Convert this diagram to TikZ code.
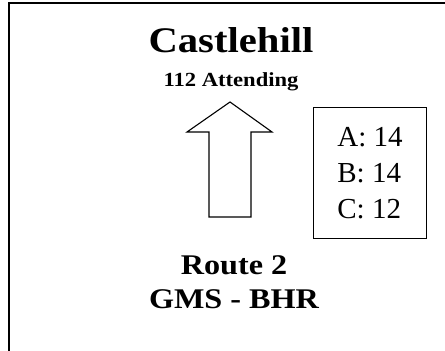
\documentclass[tikz,border=0pt]{standalone}
\usepackage{fontspec}
\setmainfont{Liberation Serif}
\newfontfamily\headfont[FakeStretch=1.13]{Liberation Serif}
\usepackage{tikz}
\usetikzlibrary{positioning,calc}

\tikzset{
  heading/.style={anchor=base, font=\headfont\fontsize{36}{40}\bfseries\selectfont},
  subheading/.style={anchor=base, font=\headfont\fontsize{20}{24}\bfseries\selectfont},
  route/.style={anchor=base, font=\headfont\fontsize{28.5}{32}\bfseries\selectfont},
  countbox/.style={draw, line width=1.6pt, minimum width=113pt, minimum height=131pt,
    align=left, font=\fontsize{29}{36}\selectfont}
}

\begin{document}
\begin{tikzpicture}[x=1pt, y=1pt]
\useasboundingbox (0,0) rectangle (445,351);
\begin{scope}
\clip (0,0) rectangle (445,351);
\draw[line width=1.8pt] (9,-20) rectangle (470,348);
\end{scope}

\node[heading] (town) at (231,298) {Castlehill};
\node[subheading] (attend) at (231,264) {112 Attending};

% arrow pointing up
\draw[line width=1.1pt, line join=miter] (209,134) -- (251,134) -- (251,219) -- (272,219)
  -- (230,249) -- (187,219) -- (209,219) -- cycle;

\node[countbox] (counts) at (370,178) {A: 14\\B: 14\\C: 12};

\node[route] (route) at (234,76) {Route 2};
\node[route] (stops) at (234,42) {GMS - BHR};

\end{tikzpicture}
\end{document}
